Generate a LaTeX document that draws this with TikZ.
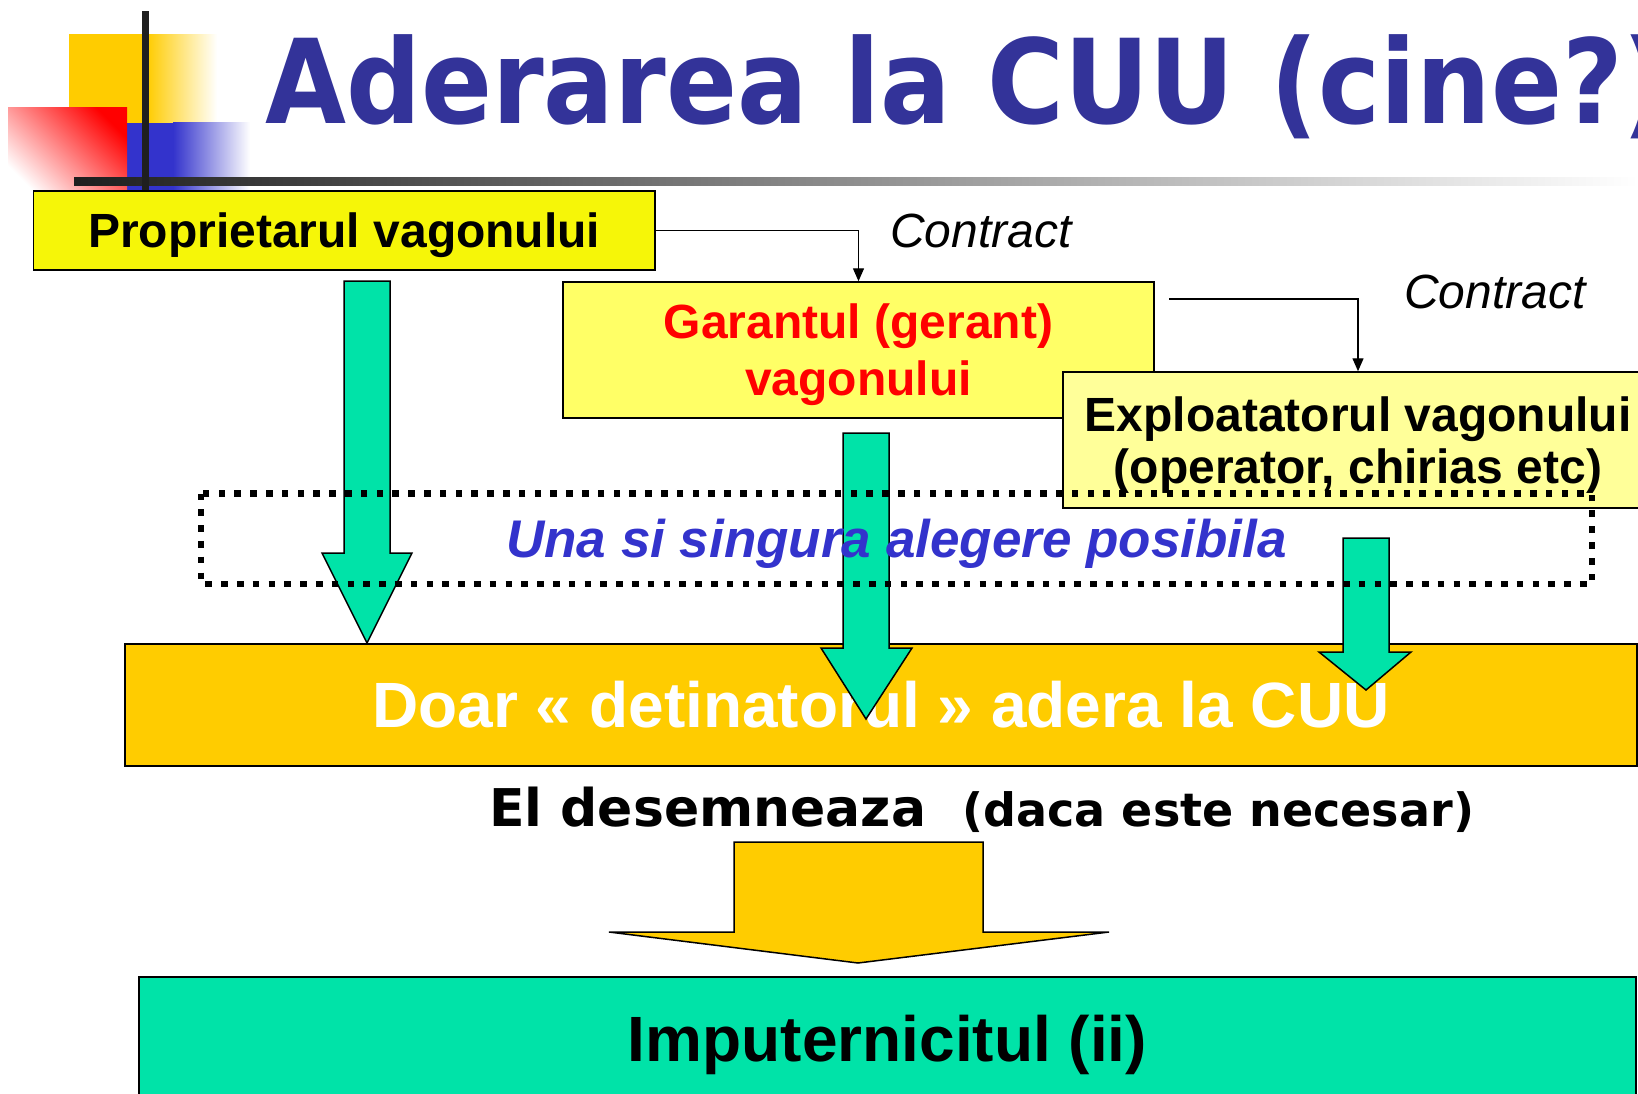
\documentclass[tikz,border=0pt]{standalone}
\usepackage{fontspec}
\setmainfont{Liberation Sans}
\newfontfamily\verdanafont{DejaVu Sans}
\usetikzlibrary{arrows.meta}

\definecolor{titleblue}{RGB}{51,51,153}
\definecolor{choiceblue}{RGB}{51,51,204}
\definecolor{decoblue}{RGB}{51,51,204}
\definecolor{gold}{RGB}{255,204,0}
\definecolor{propyellow}{RGB}{246,246,8}
\definecolor{garyellow}{RGB}{255,255,102}
\definecolor{expyellow}{RGB}{255,255,153}
\definecolor{aqua}{RGB}{0,227,168}

\begin{document}
\begin{tikzpicture}[x=1pt, y=-1pt,
  box/.style={draw=black, line width=1.5pt, inner sep=0pt, align=center,
    font=\fontsize{48}{57}\selectfont\bfseries, text height=34.4pt, text depth=0pt},
  bigbox/.style={box, font=\fontsize{64}{76}\selectfont\bfseries, text height=45.8pt},
  conn/.style={line width=1.4pt, -{Triangle[width=11pt,length=13pt]}},
  contract/.style={anchor=base west, inner sep=0pt, font=\fontsize{48}{57}\selectfont\itshape},
  greenarrow/.style={fill=aqua, draw=black, line width=1.5pt, line join=miter},
]
\useasboundingbox (0,0) rectangle (1638,1093);

% corner decoration
\fill[gold] (69,34) rectangle (147,123);
\shade[left color=gold, right color=white] (147,34) rectangle (217,123);
\fill[decoblue] (127,123) rectangle (173,190);
\shade[left color=decoblue, right color=white] (173,122) rectangle (250,190);
\shade[bottom color=white, top color=red, shading angle=-45] (8,107) rectangle (127,197);
\shade[left color=black!88, right color=white] (74,177) rectangle (1638,185);
\fill[black!88] (142,11) rectangle (149,190);

\node[anchor=base west, inner sep=0pt, text=titleblue,
  font=\verdanafont\bfseries\fontsize{117}{140}\selectfont] (title) at (265,123)
  {\scalebox{0.895}[1]{Aderarea la CUU (cine?)}};

% boxes
\node[box, fill=propyellow, minimum width=621.5pt, minimum height=79.3pt] (prop) at (344.3,230.4) {Proprietarul vagonului};
\node[box, fill=garyellow, text=red, text height=91.4pt, minimum width=591pt, minimum height=136pt] (garant) at (858.5,350) {Garantul (gerant)\\vagonului};
\node[box, fill=expyellow, font=\fontsize{48}{52}\selectfont\bfseries, text height=86.4pt, minimum width=590pt, minimum height=136pt] (exploat) at (1358,440) {Exploatatorul vagonului\\(operator, chirias etc)};

\draw[conn] (prop.east) -| (garant.north);
\coordinate (c2) at (1169,299);
\draw[conn] (c2) -| (exploat.north);
\node[contract] (lab1) at (890,247) {Contract};
\node[contract] (lab2) at (1404,308) {Contract};

\node[bigbox, fill=gold, text=white, minimum width=1512pt, minimum height=122pt] (doar) at (881,705) {Doar « detinatorul » adera la CUU};

% green arrows
\draw[greenarrow] (344,281) -- (390,281) -- (390,553) -- (412,553) -- (367,643) -- (322,553) -- (344,553) -- cycle;
\draw[greenarrow] (843,433) -- (889,433) -- (889,648) -- (912,648) -- (866,719) -- (821,648) -- (843,648) -- cycle;
\draw[greenarrow] (1343,538) -- (1389,538) -- (1389,652) -- (1411,652) -- (1366,690) -- (1319,652) -- (1343,652) -- cycle;

% the choice
\draw[line width=6.7pt, dash pattern=on 6.7pt off 9.1pt] (201,493.5) rectangle (1592,584);
\node[anchor=base, inner sep=0pt, text=choiceblue, font=\fontsize{53}{64}\selectfont\bfseries\itshape] (choice) at (896.5,557) {Una si singura alegere posibila};

\node[anchor=base west, inner sep=0pt, font=\verdanafont\bfseries\fontsize{52}{62}\selectfont] (desemn) at (489,826)
  {El desemneaza\ \ {\fontsize{46}{55}\selectfont(daca este necesar)}};

\draw[fill=gold, line width=1.5pt] (734,842) -- (983,842) -- (983,932) -- (1109,932) -- (858,963) -- (609,932) -- (734,932) -- cycle;

\node[bigbox, fill=aqua, minimum width=1497pt, minimum height=123pt] (imput) at (887.5,1038.5) {Imputernicitul (ii)};
\end{tikzpicture}
\end{document}
